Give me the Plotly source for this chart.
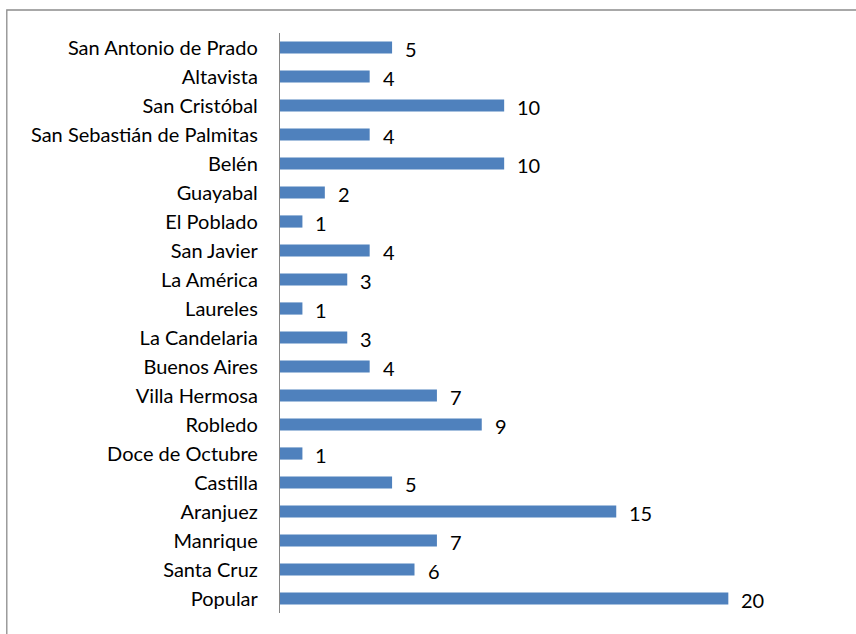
import plotly.graph_objects as go

categories = ["Popular", "Santa Cruz", "Manrique", "Aranjuez", "Castilla",
              "Doce de Octubre", "Robledo", "Villa Hermosa", "Buenos Aires",
              "La Candelaria", "Laureles", "La América", "San Javier",
              "El Poblado", "Guayabal", "Belén", "San Sebastián de Palmitas",
              "San Cristóbal", "Altavista", "San Antonio de Prado"]
values = [20, 6, 7, 15, 5, 1, 9, 7, 4, 3, 1, 3, 4, 1, 2, 10, 4, 10, 4, 5]

FONT = "Lato, 'Open Sans', sans-serif"
FS = 20

W, H = 856, 634
PL, PT, PB, PW = 280, 33, 613, 537.6

fig = go.Figure()
fig.add_trace(go.Bar(
    x=values, y=categories, orientation="h",
    marker=dict(color="#4f81bd", line=dict(width=0)),
    width=0.42, hoverinfo="skip",
))

for c, v in zip(categories, values):
    fig.add_annotation(x=v, y=c, text=str(v), showarrow=False,
                       xanchor="left", xshift=11, yshift=-1,
                       font=dict(family=FONT, size=FS, color="#000000"))

# outer chart border (extends beyond visible right/bottom edges)
fig.add_shape(type="rect", xref="paper", yref="paper",
              x0=(7 - PL) / PW, x1=(880 - PL) / PW,
              y0=(PB - 660) / (PB - PT), y1=(PB - 10) / (PB - PT),
              line=dict(color="#8c8c8c", width=1.3), fillcolor="rgba(0,0,0,0)",
              layer="below")

fig.update_layout(
    width=W, height=H,
    margin=dict(l=PL, r=W - PL - PW, t=PT, b=H - PB, pad=0),
    plot_bgcolor="white", paper_bgcolor="white",
    showlegend=False,
    font=dict(family=FONT, size=FS, color="#000000"),
    xaxis=dict(range=[0, 24], showgrid=False, zeroline=False,
               showticklabels=False, showline=False, ticks="", fixedrange=True),
    yaxis=dict(categoryorder="array", categoryarray=categories,
               range=[-0.5, len(categories) - 0.5],
               showgrid=False, zeroline=False, showline=True,
               linecolor="#868686", linewidth=1.3, ticks="",
               ticklabelstandoff=17,
               tickfont=dict(family=FONT, size=FS, color="#000000")),
)

fig.write_html("out.html",
               config={"displayModeBar": False},
               post_script="document.body.style.margin='0';document.body.style.overflow='hidden';")
